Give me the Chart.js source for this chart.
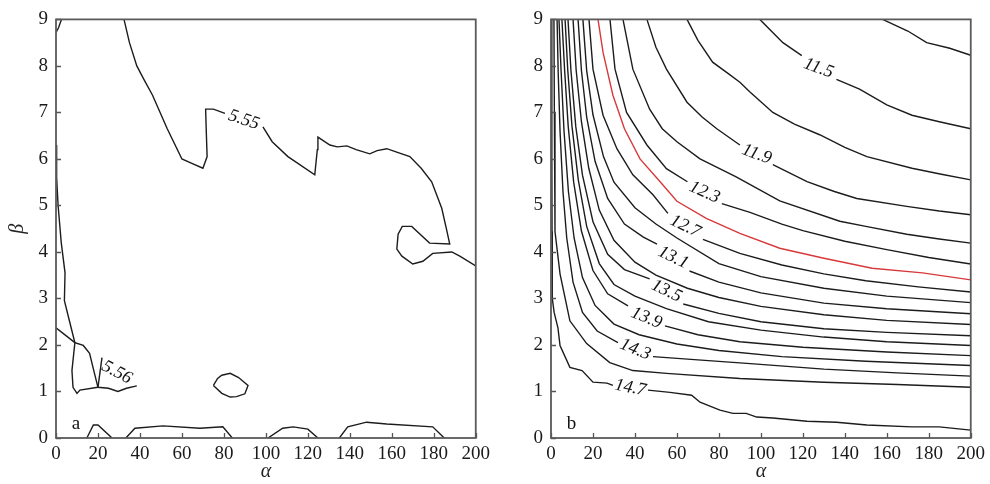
<!DOCTYPE html>
<html lang="en">
  <head>
    <meta charset="UTF-8" />
    <title>Contours</title>
    <style>
      body { margin: 0; background: #fff; }
      .panel { position: absolute; top: 0; width: 495px; height: 484px; }
      #pa { left: 0; }
      #pb { left: 495px; }
    </style>
  </head>
  <body>
    <div class="panel" id="pa"><canvas id="chartA"></canvas></div>
    <div class="panel" id="pb"><canvas id="chartB"></canvas></div>

    <script src="https://cdn.jsdelivr.net/npm/chart.js"></script>
    <script>
      // axis ticks
      const xTicks = [0, 20, 40, 60, 80, 100, 120, 140, 160, 180, 200];
      const yTicks = [0, 1, 2, 3, 4, 5, 6, 7, 8, 9];

      // ---- panel a contours, [alpha, beta] pairs, null = break ----
      const a_corner = [[0, 8.72], [1.2, 8.82], [2.6, 9]];
      const a_555 = [
        [32.4, 9], [35, 8.5], [38.5, 8.0], [42, 7.7], [46, 7.37], [53, 6.65], [60, 6.0],
        [65, 5.9], [70, 5.8], [72, 6.05], [71.6, 6.6], [71.3, 7.07], [75, 7.07], [80.5, 6.98],
        null,
        [98.6, 6.69], [103, 6.37], [110.5, 6.05], [123.3, 5.66], [124.5, 6.2], [124.8, 6.47],
        [130.5, 6.3], [134, 6.26], [138.6, 6.28], [143, 6.2], [149.5, 6.11], [153, 6.18],
        [157.6, 6.22], [162, 6.15], [168.6, 6.05], [174, 5.8], [179, 5.51], [183.8, 4.94],
        [186, 4.5], [187.6, 4.17], [178, 4.19], [169.5, 4.55], [165, 4.55], [163, 4.38],
        [162.4, 4.06], [164.8, 3.91], [170, 3.74], [174.8, 3.8], [179.5, 3.97], [188.6, 4.0],
        [192.4, 3.91], [200, 3.7]
      ];
      const a_left = [
        [0, 6.3], [0.3, 5.6], [1, 5.0], [2.5, 4.2], [4.3, 3.55], [4, 2.95], [6.5, 2.5],
        [9, 2.05], [13, 1.99], [16, 1.82], [18, 1.45], [20, 1.09], [25, 1.07], [29.5, 1.0],
        [33.6, 1.07], [38.5, 1.12]
      ];
      const a_556 = [[20, 1.09], [21.9, 1.73]];
      const a_inner = [
        [0, 2.37], [9, 2.05], [7.6, 1.45], [8.1, 1.09], [10, 0.96], [11.4, 1.03], [20, 1.09]
      ];
      const a_loop = [
        [75, 1.13], [77, 1.28], [79, 1.35], [83, 1.39], [87, 1.3], [91.5, 1.13], [90, 0.95],
        [86, 0.89], [83, 0.88], [79, 0.96], [75, 1.13]
      ];
      const a_bump1 = [[14.7, 0], [17.8, 0.28], [20, 0.28], [26.7, 0]];
      const a_bump2 = [[33.3, 0], [37.6, 0.21], [51, 0.26], [68.6, 0.21], [79.5, 0.24], [84, 0]];
      const a_bump3 = [[101, 0], [108, 0.21], [113, 0.24], [120, 0.19], [124.8, 0]];
      const a_bump4 = [[135, 0], [139, 0.24], [148, 0.34], [157.6, 0.3], [179.5, 0.24], [185, 0]];

      // ---- panel b contours ----
      const b_113 = [[158, 9], [170, 8.75], [179, 8.5], [190, 8.38], [200, 8.23]];
      const b_115 = [
        [99.5, 9], [110.5, 8.5], [119.5, 8.22], null,
        [136, 7.71], [147, 7.5], [160, 7.16], [172, 6.94], [185, 6.8], [200, 6.65]
      ];
      const b_117 = [
        [64.8, 9], [70, 8.55], [77, 8.08], [84, 7.85], [90, 7.65], [94.8, 7.44], [105.7, 7.0],
        [116, 6.75], [128, 6.52], [140, 6.25], [150.5, 6.05], [172, 5.8], [186, 5.67], [200, 5.55]
      ];
      const b_119 = [
        [45.7, 9], [50, 8.4], [55, 7.93], [64.8, 7.22], [72, 6.9], [79, 6.65], [90, 6.3], null,
        [105.7, 5.88], [122, 5.51], [135, 5.3], [145.7, 5.15], [169.5, 4.98], [185, 4.88], [200, 4.8]
      ];
      const b_121 = [
        [34.3, 9], [39, 7.93], [47, 7.07], [53, 6.65], [60, 6.37], [71, 6.0], [88, 5.62],
        [109, 5.1], [137.6, 4.66], [150, 4.55], [169.5, 4.38], [185, 4.28], [200, 4.19]
      ];
      const b_123 = [
        [28.1, 9], [30.5, 7.93], [36, 7.0], [45.7, 6.3], [55, 5.79], [65, 5.51], null,
        [81.4, 5.04], [94.8, 4.85], [110, 4.6], [120, 4.46], [140, 4.23], [160, 4.05],
        [180, 3.88], [200, 3.74]
      ];
      const b_125 = [
        [22.4, 9], [24.8, 8.29], [29.5, 7.37], [35, 6.65], [42.4, 6.0], [52, 5.51], [60, 5.09],
        [74, 4.72], [90, 4.4], [109, 4.08], [129.5, 3.87], [153, 3.65], [177, 3.55], [200, 3.4]
      ];
      const b_127 = [
        [18.1, 9], [20, 7.93], [24.8, 6.94], [31.4, 6.22], [39, 5.66], [48.6, 5.23], [55.7, 4.83],
        null,
        [72.4, 4.27], [90, 3.97], [110, 3.72], [130, 3.53], [150, 3.38], [175, 3.25], [200, 3.14]
      ];
      const b_129 = [
        [15.2, 9], [17, 7.9], [20, 6.95], [25, 6.05], [30, 5.5], [40, 4.95], [50, 4.6], [60, 4.3],
        [80, 3.75], [100, 3.47], [130, 3.22], [160, 3.05], [200, 2.91]
      ];
      const b_131 = [
        [12.9, 9], [14.5, 7.9], [17, 6.9], [21, 5.95], [27, 5.15], [35, 4.6], [44, 4.32],
        [50.5, 4.17], null,
        [66, 3.59], [80, 3.35], [100, 3.12], [130, 2.9], [160, 2.78], [200, 2.67]
      ];
      const b_133 = [
        [10.5, 9], [12, 7.9], [14.5, 6.8], [18, 5.8], [23, 4.9], [30, 4.25], [40, 3.78],
        [50, 3.5], [65, 3.22], [80, 3.02], [100, 2.83], [130, 2.65], [160, 2.53], [200, 2.44]
      ];
      const b_135 = [
        [8.1, 9], [9.5, 7.9], [11.8, 6.7], [15, 5.65], [20, 4.65], [27, 3.95], [35, 3.62],
        [47, 3.42], null,
        [63, 2.88], [80, 2.68], [100, 2.5], [130, 2.35], [160, 2.27], [200, 2.2]
      ];
      const b_137 = [
        [6.7, 9], [8, 7.9], [10, 6.7], [13, 5.55], [17, 4.55], [23, 3.75], [30, 3.3], [40, 3.05],
        [55, 2.78], [75, 2.5], [100, 2.32], [130, 2.17], [160, 2.07], [200, 1.99]
      ];
      const b_139 = [
        [5.2, 9], [6.5, 7.9], [8.2, 6.7], [10.8, 5.5], [14.5, 4.45], [20, 3.6], [27, 3.1],
        [36.7, 2.84], null,
        [54.3, 2.41], [70, 2.22], [90, 2.07], [120, 1.95], [160, 1.85], [200, 1.77]
      ];
      const b_141 = [
        [3.8, 9], [4.8, 7.9], [6.2, 6.6], [8.3, 5.3], [11, 4.3], [15, 3.45], [21, 2.85],
        [30, 2.45], [42, 2.22], [60, 2.02], [80, 1.88], [110, 1.75], [150, 1.65], [200, 1.56]
      ];
      const b_143 = [
        [2.9, 9], [3.4, 7.9], [4.3, 6.6], [5.7, 5.3], [7.5, 4.3], [10.5, 3.35], [15, 2.7],
        [22, 2.3], [31.9, 2.05], null,
        [48.6, 1.75], [70, 1.68], [95, 1.6], [130, 1.48], [165, 1.4], [200, 1.33]
      ];
      const b_145 = [
        [1.4, 9], [1.6, 7], [1.9, 4.44], [4.3, 3.53], [9, 2.52], [17, 2.03], [28, 1.62],
        [39, 1.45], [55, 1.39], [90, 1.28], [130, 1.2], [165, 1.15], [200, 1.09]
      ];
      const b_147 = [
        [0.4, 9], [0.4, 6], [0.5, 4.44], [0.6, 3.0], [1.5, 2.7], [3.3, 2.37], [4.3, 1.99],
        [9, 1.52], [14.8, 1.45], [20, 1.2], [26.7, 1.18], [29.5, 1.13], null,
        [46.2, 1.03], [56.7, 0.98], [67, 0.92], [71, 0.77], [80.5, 0.6], [86.7, 0.53], [93, 0.53],
        [98, 0.45], [105.7, 0.43], [122, 0.36], [136, 0.34], [150.5, 0.28], [172, 0.24],
        [185, 0.24], [200, 0.17]
      ];

      // contour labels: text, anchor [alpha, beta], angle in degrees
      const labelsA = [
        ["5.55", [89.5, 6.84], 18],
        ["5.56", [29, 1.41], 28]
      ];
      const labelsB = [
        ["11.5", [127.5, 7.95], 20],
        ["11.9", [98, 6.1], 20],
        ["12.3", [73.2, 5.28], 24],
        ["12.7", [64, 4.55], 26],
        ["13.1", [58.2, 3.88], 26],
        ["13.5", [55, 3.16], 26],
        ["13.9", [45.5, 2.58], 22],
        ["14.3", [40.2, 1.9], 22],
        ["14.7", [37.8, 1.08], 11]
      ];

      const INK = "#1c1c1c";
      const RED = "#d8393b";
      const SERIF = "'Liberation Serif', 'DejaVu Serif', serif";

      // split a polyline with null breaks into line datasets
      function toDatasets(lines, color) {
        const out = [];
        lines.forEach((line) => {
          let seg = [];
          line.concat([null]).forEach((p) => {
            if (p === null) {
              if (seg.length) out.push(seg);
              seg = [];
            } else {
              seg.push({ x: p[0], y: p[1] });
            }
          });
        });
        return out.map((seg) => ({
          data: seg,
          showLine: true,
          borderColor: color,
          borderWidth: 1.4,
          pointRadius: 0,
          tension: 0,
          fill: false,
        }));
      }

      // inward ticks, frame, contour labels, panel letter
      const framePlugin = {
        id: "frame",
        afterDatasetsDraw(chart, args, opts) {
          const { ctx, chartArea: a, scales } = chart;
          const x = scales.x, y = scales.y;
          ctx.save();
          ctx.strokeStyle = "#555";
          ctx.lineWidth = 1.3;
          ctx.beginPath();
          xTicks.forEach((v) => {
            const px = Math.round(x.getPixelForValue(v)) + 0.5;
            ctx.moveTo(px, a.bottom);
            ctx.lineTo(px, a.bottom - 5);
          });
          yTicks.forEach((v) => {
            const py = Math.round(y.getPixelForValue(v)) + 0.5;
            ctx.moveTo(a.left, py);
            ctx.lineTo(a.left + 5, py);
          });
          ctx.stroke();
          ctx.lineWidth = 1.8;
          ctx.strokeStyle = "#5a5a5a";
          ctx.strokeRect(a.left, a.top, a.right - a.left, a.bottom - a.top);

          ctx.fillStyle = "#111";
          ctx.font = "italic 18px " + SERIF;
          ctx.textAlign = "center";
          ctx.textBaseline = "middle";
          opts.labels.forEach(([text, at, ang]) => {
            ctx.save();
            ctx.translate(x.getPixelForValue(at[0]), y.getPixelForValue(at[1]));
            ctx.rotate((ang * Math.PI) / 180);
            ctx.fillText(text, 0, 0);
            ctx.restore();
          });

          ctx.font = "19px " + SERIF;
          ctx.textAlign = "left";
          ctx.textBaseline = "alphabetic";
          ctx.fillText(opts.letter, x.getPixelForValue(7.5), y.getPixelForValue(0.2));
          ctx.restore();
        },
      };

      function makeChart(id, datasets, labels, letter, showYTitle) {
        const tickFont = { family: SERIF, size: 19 };
        new Chart(document.getElementById(id), {
          type: "scatter",
          data: { datasets },
          options: {
            responsive: true,
            maintainAspectRatio: false,
            animation: false,
            layout: { padding: { top: 17, right: 19, left: 0, bottom: 0 } },
            plugins: {
              legend: { display: false },
              tooltip: { enabled: false },
              frame: { labels, letter },
            },
            scales: {
              x: {
                type: "linear",
                min: 0,
                max: 200,
                afterBuildTicks: (s) => { s.ticks = xTicks.map((v) => ({ value: v })); },
                afterFit: (s) => { s.height = 46; },
                grid: { display: false, drawTicks: false },
                border: { display: false },
                ticks: { color: "#1a1a1a", font: tickFont, padding: 5, maxRotation: 0, autoSkip: false },
                title: {
                  display: true,
                  text: "α",
                  color: "#222",
                  font: { family: SERIF, size: 20, style: "italic" },
                  padding: { top: 0, bottom: 0 },
                },
              },
              y: {
                type: "linear",
                min: 0,
                max: 9,
                afterBuildTicks: (s) => { s.ticks = yTicks.map((v) => ({ value: v })); },
                afterFit: (s) => { s.width = 56; },
                grid: { display: false, drawTicks: false },
                border: { display: false },
                ticks: { color: "#1a1a1a", font: tickFont, padding: 8 },
                title: {
                  display: showYTitle,
                  text: "β",
                  color: "#222",
                  font: { family: SERIF, size: 20, style: "italic" },
                  padding: { top: 6, bottom: 0 },
                },
              },
            },
          },
          plugins: [framePlugin],
        });
      }

      const dsA = toDatasets(
        [a_corner, a_555, a_left, a_556, a_inner, a_loop, a_bump1, a_bump2, a_bump3, a_bump4],
        INK
      );
      const dsB = toDatasets(
        [b_113, b_115, b_117, b_119, b_121, b_123, b_127, b_129, b_131, b_133, b_135, b_137,
         b_139, b_141, b_143, b_145, b_147],
        INK
      ).concat(toDatasets([b_125], RED));

      makeChart("chartA", dsA, labelsA, "a", true);
      makeChart("chartB", dsB, labelsB, "b", false);
    </script>
  </body>
</html>
